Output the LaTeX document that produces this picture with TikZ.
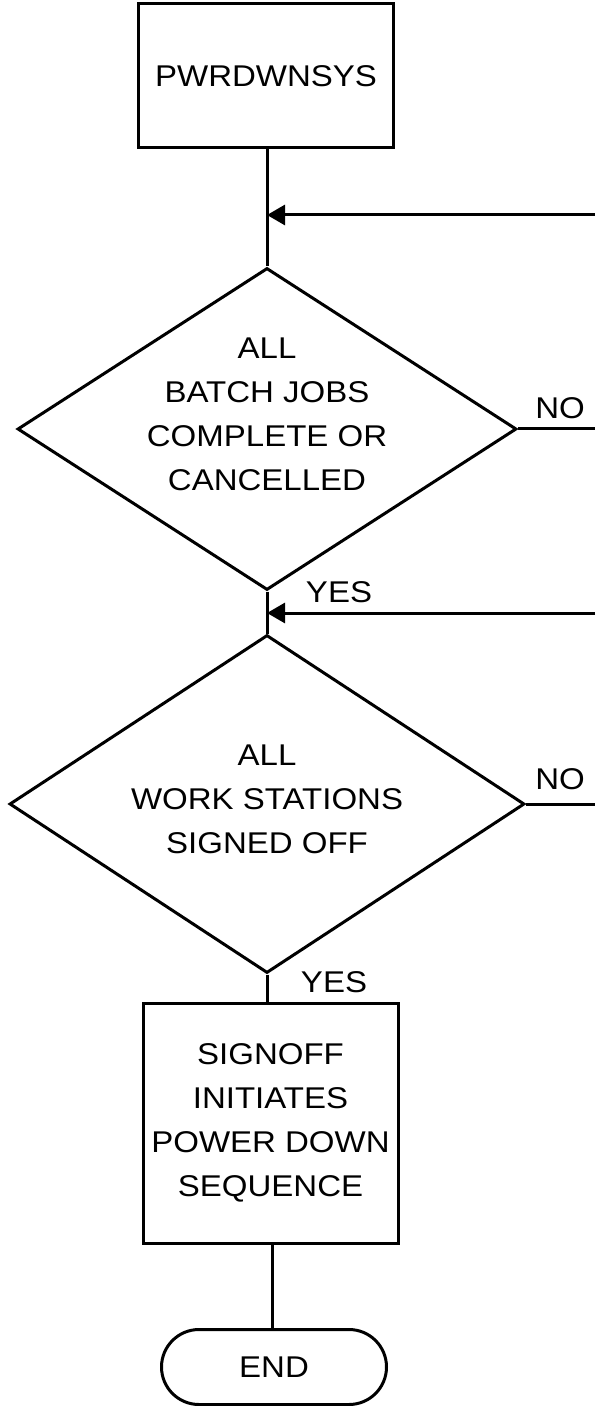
\documentclass[tikz,border=0pt]{standalone}
\usepackage{fontspec}
\setmainfont{Liberation Sans}[FakeStretch=1.1]
\usetikzlibrary{shapes.geometric,shapes.misc,arrows.meta}
\begin{document}
\begin{tikzpicture}[x=0.5pt,y=-0.5pt,
  line width=1.5pt,
  every node/.style={font=\fontsize{15}{22}\selectfont},
  box/.style={draw,rectangle,inner sep=0pt},
  decision/.style={draw,diamond,inner sep=0pt},
  lbl/.style={align=center,inner sep=0pt},
  term/.style={draw,rounded rectangle,inner sep=0pt},
  arr/.style={-{Triangle[length=9pt,width=10pt]}}]
\useasboundingbox (0,0) rectangle (595,1406);

% start box
\node[box,minimum width=127.5pt,minimum height=72pt] (start) at (266,76) {PWRDWNSYS};

% first decision
\node[decision,minimum width=249.5pt,minimum height=161pt] (d1) at (267,429) {};
\node[lbl] (d1t) at (267,414) {ALL\\BATCH JOBS\\COMPLETE OR\\CANCELLED};

% second decision
\node[decision,minimum width=257.5pt,minimum height=169pt] (d2) at (267,804) {};
\node[lbl] (d2t) at (267,799) {ALL\\WORK STATIONS\\SIGNED OFF};

% action box
\node[box,minimum width=127.5pt,minimum height=120pt] (act) at (270.5,1123) {};
\node[lbl] (actt) at (270.5,1123) {SIGNOFF\\INITIATES\\POWER DOWN\\SEQUENCE};

% terminator
\node[term,minimum width=112.5pt,minimum height=37.5pt] (end) at (274,1367) {END};

% right-hand loose ends
\coordinate (r1) at (595,215);
\coordinate (r2) at (595,613);

% branch labels
\node[lbl] (no1) at (560,408) {NO};
\node[lbl] (no2) at (560,779) {NO};
\node[lbl] (yes1) at (339,592) {YES};
\node[lbl] (yes2) at (334,982) {YES};

% connectors
\draw (start.south -| d1.north) -- (d1.north);
\draw (d1.south) -- (d2.north);
\draw (d2.south) -- (d2.south |- act.north);
\draw (act.south -| 272,0) -- (end.north -| 272,0);
\draw (d1.east) -- (d1.east -| r1);
\draw (d2.east) -- (d2.east -| r2);
\draw[arr] (r1) -- (r1 -| d1.north);
\draw[arr] (r2) -- (r2 -| d1.north);
\end{tikzpicture}
\end{document}
